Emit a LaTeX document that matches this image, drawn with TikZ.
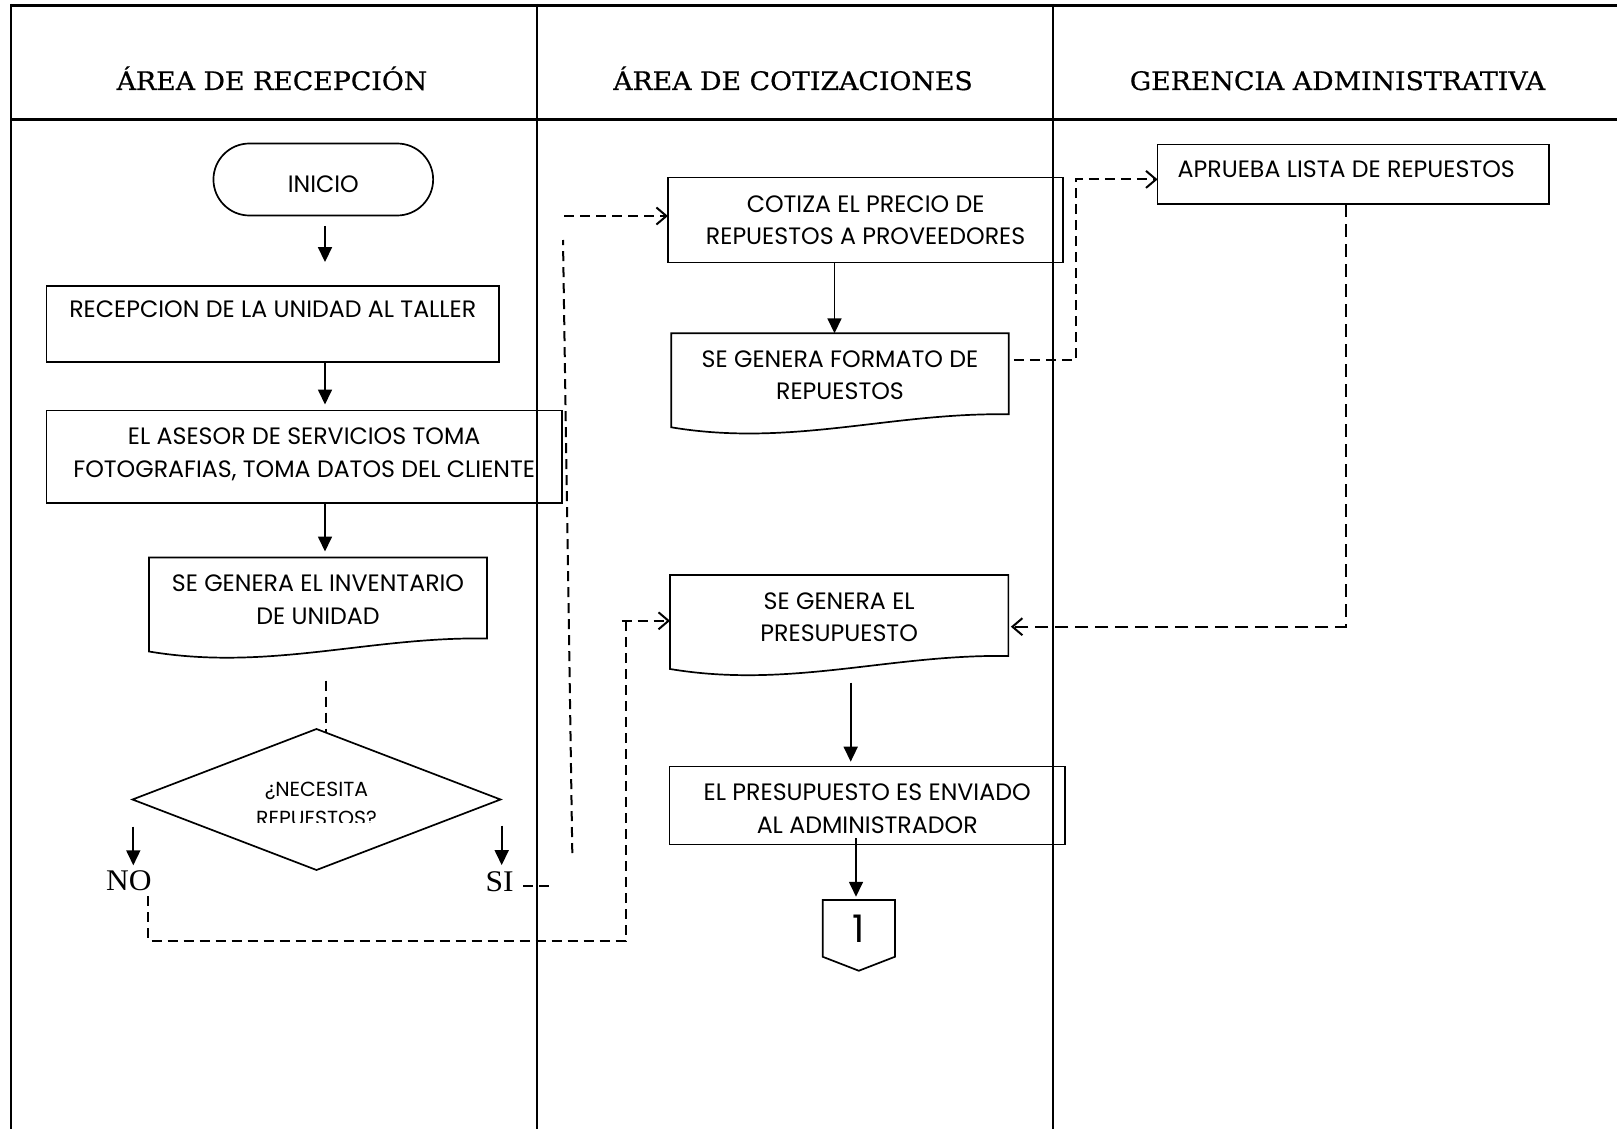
\documentclass[tikz,border=0pt]{standalone}
\usepackage{fontspec}
\setmainfont{Poppins}
\newfontfamily\headfont[FakeStretch=1.05,FakeBold=0.6]{DejaVu Serif}
\newfontfamily\answerfont[FakeStretch=1.05]{Liberation Serif}
\usetikzlibrary{arrows.meta,calc,shapes.geometric}
\newcommand\flowfont{\fontsize{23.7}{32.5}\selectfont}

\begin{document}
\begin{tikzpicture}[x=1pt,y=-1pt,
  every node/.style={inner sep=0pt, outer sep=0pt},
  boxline/.style={line width=1.7pt},
  procbox/.style={draw, boxline, rectangle, align=center, font=\flowfont},
  doctext/.style={rectangle, align=center, font=\flowfont, minimum height=84pt, anchor=north},
  lanetitle/.style={font=\headfont\fontsize{25.5}{30}\selectfont, anchor=base},
  answer/.style={font=\answerfont\fontsize{30}{36}\selectfont, anchor=base},
  flow/.style={line width=1.7pt, -{Triangle[length=15pt,width=14pt]}},
  dashline/.style={line width=2pt, dash pattern=on 10pt off 6pt},
  dashlong/.style={line width=2pt, dash pattern=on 13pt off 7pt},
  openhead/.style={-{Straight Barb[length=10pt,width=17pt,line width=2pt]}}
]
\useasboundingbox (0,0) rectangle (1617,1129);

% swimlane frame
\draw[line width=3pt] (11,5.5) -- (1617,5.5);
\draw[line width=3pt] (11,119.5) -- (1617,119.5);
\draw[line width=2pt] (11,4) -- (11,1129);
\draw[line width=2pt] (537,4) -- (537,1129);
\draw[line width=2pt] (1053,4) -- (1053,1129);

% lane titles
\node[lanetitle] (hrec) at (272,90) {ÁREA DE RECEPCIÓN};
\node[lanetitle] (hcot) at (793,90) {ÁREA DE COTIZACIONES};
\node[lanetitle] (hger) at (1337.5,90) {GERENCIA ADMINISTRATIVA};

% reception lane
\node[procbox, rounded corners=36pt, minimum width=219.7pt, minimum height=72pt, text height=27pt] (inicio) at (323.3,179.5) {INICIO};
\node[procbox, minimum width=452.8pt, minimum height=76.3pt] (rec) at (272.8,323.9) {\rule{0pt}{20.5pt}RECEPCION DE LA UNIDAD AL TALLER\\ \mbox{}};
\node[procbox, minimum width=515.6pt, minimum height=92.8pt, text depth=8.5pt] (ase) at (304.2,456.9) {EL ASESOR DE SERVICIOS TOMA\\FOTOGRAFIAS, TOMA DATOS DEL CLIENTE};
\node[doctext, minimum width=338pt] (inv) at (318,557.5) {SE GENERA EL INVENTARIO\\DE UNIDAD};
\draw[boxline] (inv.north west) -- (inv.north east) -- ++(0,81)
  .. controls +(-118,-2) and +(120,20) .. ($(inv.north west)+(0,94)$) -- cycle;

\node[draw, boxline, diamond, minimum width=368pt, minimum height=141pt] (dia) at (316.5,799.5) {};
\begin{scope}
  \clip (0,0) rectangle (1617,822.5);
  \node[font=\fontsize{20.4}{28.5}\selectfont, align=center] (qtext) at (316.5,804) {¿NECESITA\\REPUESTOS?};
\end{scope}
\node[answer] (no) at (128.9,890.7) {NO};
\node[answer] (si) at (499.5,891) {SI};

% quotation lane
\node[procbox, minimum width=395.3pt, minimum height=85pt] (cot) at (865.6,220) {COTIZA EL PRECIO DE\\REPUESTOS A PROVEEDORES};
\node[doctext, minimum width=337.5pt] (fmt) at (840,333.3) {SE GENERA FORMATO DE\\REPUESTOS};
\draw[boxline] (fmt.north west) -- (fmt.north east) -- ++(0,81)
  .. controls +(-118,-2) and +(120,20) .. ($(fmt.north west)+(0,94)$) -- cycle;
\node[doctext, minimum width=338.3pt] (pre) at (839.2,575) {SE GENERA EL\\PRESUPUESTO};
\draw[boxline] (pre.north west) -- (pre.north east) -- ++(0,81)
  .. controls +(-118,-2) and +(120,20) .. ($(pre.north west)+(0,94)$) -- cycle;
\node[procbox, minimum width=395.7pt, minimum height=78pt] (env) at (867.2,805.5) {\rule{0pt}{23pt}EL PRESUPUESTO ES ENVIADO\\AL ADMINISTRADOR};
\node[minimum width=72.3pt, minimum height=56.7pt, font=\fontsize{38}{40}\selectfont] (off) at (858.8,928.4) {1};
\draw[boxline] (off.north west) -- (off.north east) -- (off.south east)
  -- ($(off.south)+(0,14)$) -- (off.south west) -- cycle;

% management lane
\node[procbox, minimum width=391.5pt, minimum height=59.8pt] (apr) at (1353.3,174.4) {APRUEBA LISTA DE REPUESTOS\hspace*{14pt}\rule[-10pt]{0pt}{0pt}};

% connector columns and free ends
\coordinate (xa) at (325,0);
\coordinate (xb) at (325.7,0);
\coordinate (xc) at (834.5,0);
\coordinate (xp) at (850.7,0);
\coordinate (xo) at (856,0);
\coordinate (xr) at (1075.5,0);
\coordinate (xg) at (1346,0);
\coordinate (noarr) at (133.3,826.7);
\coordinate (siarr) at (501.7,825.7);
\coordinate (sibot) at (572.3,853);
\coordinate (sitop) at (563,240);
\coordinate (cotin) at (564.3,216);
\coordinate (nostart) at (148.4,896);
\coordinate (loopc) at (625.7,940.7);
\coordinate (looptop) at (625.7,616);

% solid flow
\draw[flow, shorten <=10.4pt, shorten >=23.7pt] (inicio.south -| xa) -- (rec.north -| xa);
\draw[flow, shorten >=6pt] (rec.south -| xa) -- (ase.north -| xa);
\draw[flow, shorten >=6pt] (ase.south -| xa) -- (inv.north -| xa);
\draw[flow, shorten >=5.5pt] (noarr) -- (noarr |- no.north);
\draw[flow, shorten >=6pt] (siarr) -- (siarr |- si.north);
\draw[flow] (cot.south -| xc) -- (fmt.north -| xc);
\draw[flow, shorten <=23.7pt, shorten >=4.8pt] (pre.south -| xp) -- (env.north -| xp);
\draw[flow, shorten <=-6.2pt, shorten >=3.3pt] (env.south -| xo) -- (off.north -| xo);

% dashed links
\draw[dashline, shorten <=39pt] (inv.south -| xb) -- ($(dia.north -| xb)+(0,3.4)$);
\draw[dashline] ($(si.base east)+(9.5,-5.3)$) -- ++(32,0);
\draw[dashline] (sibot) -- (sitop);
\draw[dashline, openhead] (cotin) -- (cotin -| cot.west);
\coordinate (fmtout) at ($(fmt.north east)+(5,27)$);
\coordinate (aprin) at ($(apr.west)+(0,5)$);
\draw[dashline, openhead] (fmtout) -- (fmtout -| xr) -- (xr |- aprin) -- (aprin);
\coordinate (prer) at ($(pre.north east)+(2.5,51.7)$);
\draw[dashlong, openhead] (apr.south -| xg) |- (prer);
\draw[dashline] (nostart) |- (loopc) -- (looptop);
\coordinate (prel) at ($(pre.west)+(0,3.8)$);
\draw[dashline, openhead] ($(prel -| loopc)+(-4,0)$) -- (prel);
\end{tikzpicture}
\end{document}
